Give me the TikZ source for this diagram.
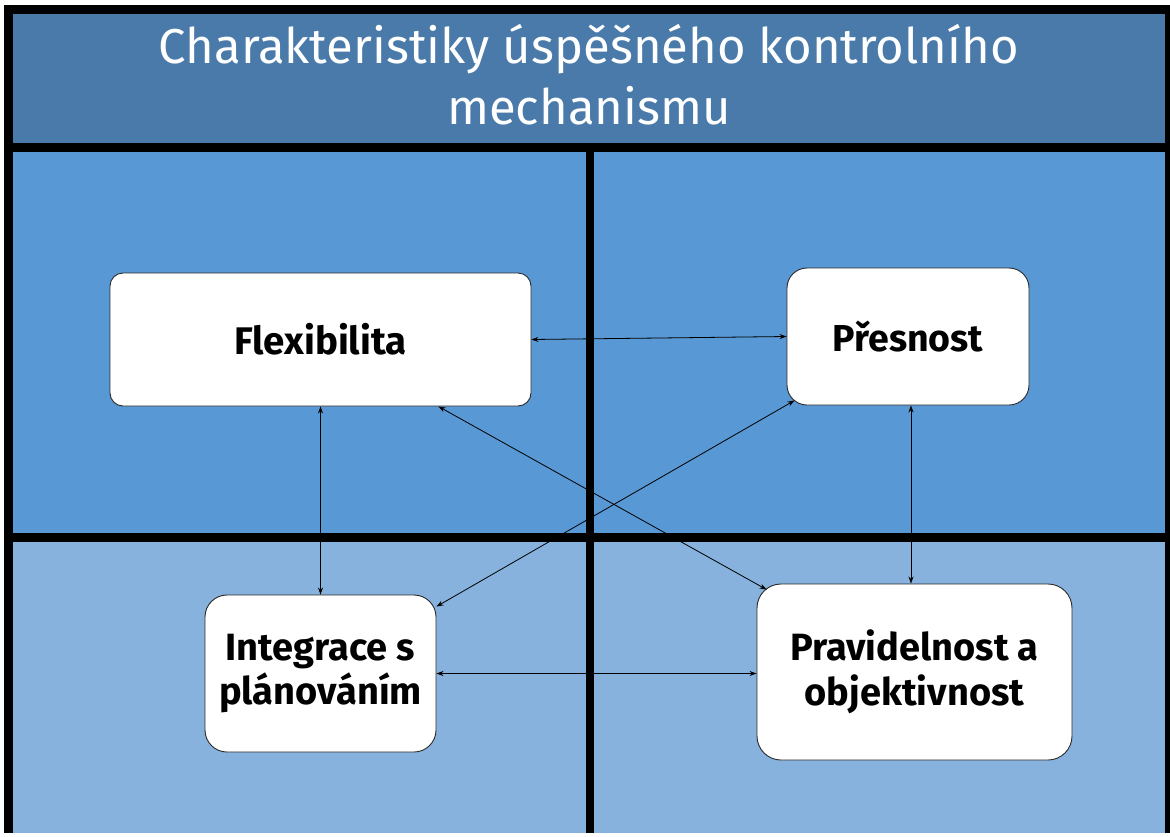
\documentclass[tikz,border=0pt]{standalone}
\usepackage{fontspec}
\setmainfont{Fira Sans}
\usetikzlibrary{arrows.meta,calc}
\definecolor{titleblue}{HTML}{4A7AAA}
\definecolor{upperblue}{HTML}{5898D4}
\definecolor{lowerblue}{HTML}{86B2DD}
\definecolor{boxedge}{HTML}{2A2A2A}
\tikzset{
  card/.style={draw=boxedge, line width=0.9pt, fill=white, rounded corners=#1,
    align=center, font=\bfseries\fontsize{38.5}{44}\selectfont, inner sep=0pt},
  card/.default=14pt,
  link/.style={draw=black, line width=0.8pt,
    {Stealth[length=7pt,width=5pt]}-{Stealth[length=7pt,width=5pt]}}
}
\begin{document}
\begin{tikzpicture}[x=1pt,y=-1pt]
  \useasboundingbox (0,0) rectangle (1170,836);
  \fill[white] (0,0) rectangle (1170,836);
  % frame and dividers
  \fill[black] (4,5) rectangle (1170,833);
  \fill[titleblue] (13,14) rectangle (1165,143);
  \fill[upperblue] (13,152) rectangle (586,533);
  \fill[upperblue] (594,152) rectangle (1165,533);
  \fill[lowerblue] (13,542) rectangle (586,833);
  \fill[lowerblue] (594,542) rectangle (1165,833);
  % heading
  \node (title) at (589,75) [align=center, text=white,
    font=\fontsize{49}{61}\selectfont]
    {Charakteristiky úspěšného kontrolního\\mechanismu};
  % the four characteristics
  \node (flex) [card=13pt, minimum width=421pt, minimum height=133pt]
    at (320.5,339.5) {Flexibilita};
  \node (pres) [card=20pt, minimum width=242pt, minimum height=137pt,
    font=\bfseries\fontsize{37.5}{44}\selectfont]
    at (908,336.5) {Přesnost};
  \node (integ) [card=22pt, minimum width=231pt, minimum height=157pt,
    font=\bfseries\fontsize{38}{44}\selectfont]
    at (320.5,673.5) {Integrace s\\plánováním};
  \node (prav) [card=24pt, minimum width=315pt, minimum height=176pt,
    font=\bfseries\fontsize{38}{45}\selectfont]
    at (914.5,672) {Pravidelnost a\\objektivnost};
  % connections
  \draw[link] (flex.east) -- (pres.west);
  \draw[link] (flex.south) -- (integ.north);
  \draw[link] ([xshift=3pt]pres.south) -- ([xshift=3pt]pres.south |- prav.north);
  \draw[link] ([xshift=-93pt]flex.south east) -- ([xshift=10pt,yshift=-6pt]prav.north west);
  \draw[link] ([xshift=8pt,yshift=5pt]pres.south west) -- ([yshift=-12pt]integ.north east);
  \draw[link] (integ.east) -- (integ.east -| prav.west);
\end{tikzpicture}
\end{document}
